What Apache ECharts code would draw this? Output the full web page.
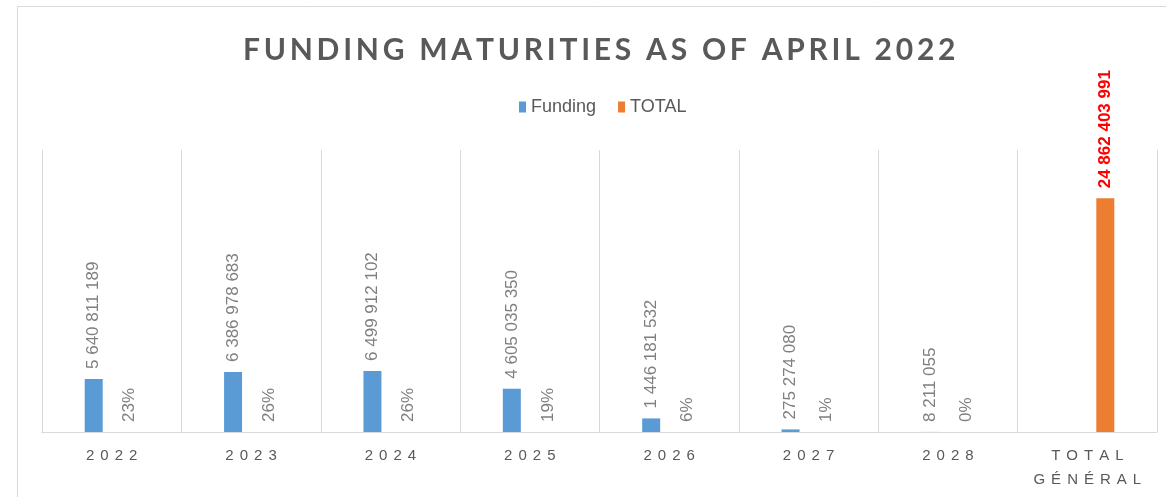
<!DOCTYPE html>
<html style="height:100%">
<head>
<meta charset="utf-8">
</head>
<body style="height:100%; margin: 0; background:#fff">
<div id="container" style="width:1166px; height:497px"></div>
<script src="https://cdn.jsdelivr.net/npm/echarts@6/dist/echarts.min.js"></script>
<script type="text/javascript">
var categories = ['2022', '2023', '2024', '2025', '2026', '2027', '2028', 'TOTAL\nGÉNÉRAL'];
var funding = [5640811189, 6386978683, 6499912102, 4605035350, 1446181532, 275274080, 8211055, null];
var total = [null, null, null, null, null, null, null, 24862403991];
var shares = ['23%', '26%', '26%', '19%', '6%', '1%', '0%', null];

// spaced-out digits like the source
function fmt(v) {
    return String(v).replace(/\B(?=(\d{3})+(?!\d))/g, ' ');
}
function spread(s, gap) {
    return s.split('\n').map(function (line) {
        return line.split('').join(gap);
    }).join('\n');
}

var dom = document.getElementById('container');
var myChart = echarts.init(dom);

var labelBase = {
    show: true,
    position: 'top',
    rotate: 90,
    align: 'left',
    verticalAlign: 'middle',
    distance: 10,
    fontFamily: 'Liberation Sans',
    fontSize: 17,
    color: '#7f7f7f'
};

var option = {
    animation: false,
    backgroundColor: '#fff',
    title: {
        text: spread('FUNDING MATURITIES AS OF APRIL 2022', '\u2009'),
        left: 238,
        top: 30,
        textStyle: {
            fontFamily: 'Lato',
            fontWeight: 'bold',
            fontSize: 30,
            color: '#595959'
        }
    },
    legend: {
        data: ['Funding', 'TOTAL'],
        top: 93,
        left: 514,
        itemWidth: 7,
        itemHeight: 11,
        itemGap: 22,
        icon: 'rect',
        textStyle: { fontFamily: 'Liberation Sans', fontSize: 18, color: '#595959' }
    },
    graphic: [{
        type: 'rect',
        silent: true,
        shape: { x: 17.5, y: 6.5, width: 1200, height: 600 },
        style: { fill: 'none', stroke: '#d9d9d9', lineWidth: 1 }
    }],
    grid: { left: 42, right: 9, top: 150, bottom: 65 },
    xAxis: {
        type: 'category',
        data: categories,
        axisTick: { show: false },
        axisLine: { lineStyle: { color: '#d9d9d9' } },
        splitLine: { show: true, interval: 0, lineStyle: { color: '#d9d9d9' } },
        axisLabel: {
            interval: 0,
            margin: 12,
            fontFamily: 'Liberation Sans',
            fontSize: 15,
            color: '#595959',
            lineHeight: 24,
            formatter: function (s) { return spread(s, '\u2009\u2009'); }
        }
    },
    yAxis: {
        type: 'value',
        min: 0,
        max: 30000000000,
        show: false,
        splitLine: { show: false }
    },
    series: [
        {
            name: 'Funding',
            type: 'bar',
            data: funding,
            barWidth: 18,
            barGap: '100%',
            itemStyle: { color: '#5b9bd5' },
            label: Object.assign({}, labelBase, {
                formatter: function (p) { return p.value == null ? '' : fmt(p.value); }
            })
        },
        {
            name: 'TOTAL',
            type: 'bar',
            stack: 't',
            data: total,
            barWidth: 18,
            itemStyle: { color: '#ed7d31' },
            label: Object.assign({}, labelBase, {
                color: '#ff0000',
                fontWeight: 'bold',
                formatter: function (p) { return p.value == null ? '' : fmt(p.value); }
            })
        },
        {
            name: 'share',
            type: 'bar',
            stack: 't',
            data: shares.map(function (s) { return s == null ? null : 0; }),
            barWidth: 18,
            itemStyle: { color: 'rgba(0,0,0,0)' },
            label: Object.assign({}, labelBase, {
                formatter: function (p) { return shares[p.dataIndex] || ''; }
            })
        }
    ]
};

myChart.setOption(option);
</script>
</body>
</html>
